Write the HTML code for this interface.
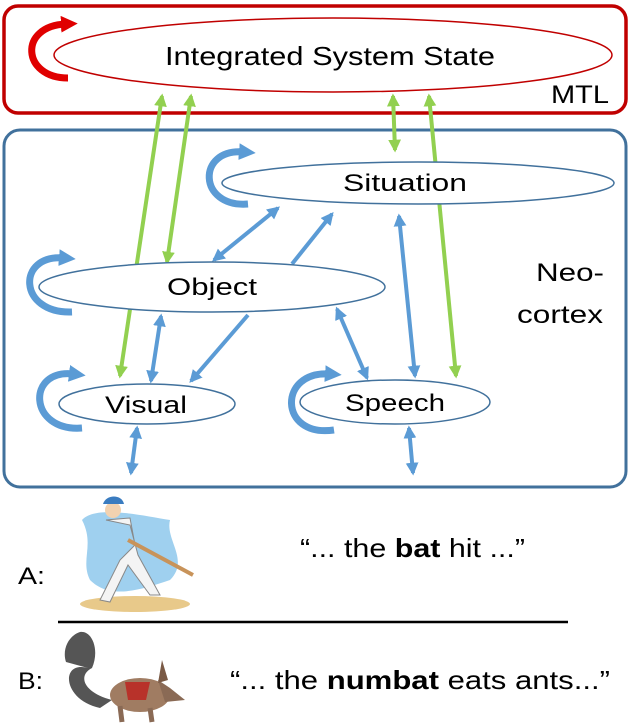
<!DOCTYPE html>
<html><head><meta charset="utf-8"><style>
html,body{margin:0;padding:0;background:#fff;}
svg{display:block;}
text{font-family:"Liberation Sans",sans-serif;fill:#000;}
</style></head><body>
<svg width="630" height="728" viewBox="0 0 630 728" xmlns="http://www.w3.org/2000/svg">
<defs>
<marker id="bh" viewBox="0 0 10 10" refX="8" refY="5" markerWidth="3.2" markerHeight="3.2" orient="auto-start-reverse"><path d="M0,0 L10,5 L0,10 z" fill="#5b9bd5"/></marker>
<marker id="gh" viewBox="0 0 10 10" refX="8" refY="5" markerWidth="3.2" markerHeight="3.2" orient="auto-start-reverse"><path d="M0,0 L10,5 L0,10 z" fill="#92d050"/></marker>
<marker id="rh" viewBox="0 0 10 10" refX="3" refY="5" markerWidth="2.4" markerHeight="2.4" orient="auto"><path d="M0,0 L10,5 L0,10 z" fill="#e00000"/></marker>
<marker id="lb" viewBox="0 0 10 10" refX="3" refY="5" markerWidth="2.4" markerHeight="2.4" orient="auto"><path d="M0,0 L10,5 L0,10 z" fill="#5b9bd5"/></marker>
</defs>

<!-- MTL box -->
<rect x="4" y="6" width="622" height="107" rx="14" fill="none" stroke="#c00000" stroke-width="3.5"/>
<path d="M68,78 C22,78 18,26 66,24" fill="none" stroke="#e00000" stroke-width="7" marker-end="url(#rh)"/>
<ellipse cx="333" cy="55" rx="279" ry="37" fill="#fff" stroke="#c00000" stroke-width="1.5"/>
<text x="330" y="65" font-size="26" text-anchor="middle" textLength="330" lengthAdjust="spacingAndGlyphs">Integrated System State</text>
<text x="551" y="103" font-size="25" textLength="58" lengthAdjust="spacingAndGlyphs">MTL</text>

<!-- Neocortex box -->
<rect x="4" y="130" width="622" height="357" rx="16" fill="none" stroke="#41719c" stroke-width="3"/>
<text x="536" y="281" font-size="25" textLength="68" lengthAdjust="spacingAndGlyphs">Neo-</text>
<text x="517" y="323" font-size="25" textLength="86" lengthAdjust="spacingAndGlyphs">cortex</text>

<!-- green arrows -->
<g stroke="#92d050" stroke-width="4" fill="none">
<line x1="120" y1="376" x2="162" y2="96" marker-start="url(#gh)" marker-end="url(#gh)"/>
<line x1="191" y1="96" x2="167" y2="262" marker-start="url(#gh)" marker-end="url(#gh)"/>
<line x1="393" y1="96" x2="395" y2="150" marker-start="url(#gh)" marker-end="url(#gh)"/>
<line x1="429" y1="96" x2="456" y2="376" marker-start="url(#gh)" marker-end="url(#gh)"/>
</g>

<!-- blue arrows -->
<g stroke="#5b9bd5" stroke-width="4" fill="none">
<line x1="214" y1="260" x2="278" y2="208" marker-start="url(#bh)" marker-end="url(#bh)"/>
<line x1="292" y1="264" x2="332" y2="214" marker-end="url(#bh)"/>
<line x1="248" y1="315" x2="191" y2="381" marker-end="url(#bh)"/>
<line x1="161" y1="316" x2="151" y2="381" marker-start="url(#bh)" marker-end="url(#bh)"/>
<line x1="337" y1="309" x2="367" y2="378" marker-start="url(#bh)" marker-end="url(#bh)"/>
<line x1="399" y1="216" x2="415" y2="376" marker-start="url(#bh)" marker-end="url(#bh)"/>
<line x1="137" y1="428" x2="131" y2="473" marker-start="url(#bh)" marker-end="url(#bh)"/>
<line x1="409" y1="428" x2="413" y2="473" marker-start="url(#bh)" marker-end="url(#bh)"/>
</g>

<!-- blue self loops -->
<g stroke="#5b9bd5" stroke-width="7" fill="none">
<path d="M248,204 C198,208 196,148 244,152" marker-end="url(#lb)"/>
<path d="M72,312 C18,314 16,254 64,258" marker-end="url(#lb)"/>
<path d="M82,428 C28,432 26,368 74,374" marker-end="url(#lb)"/>
<path d="M334,430 C278,438 278,370 330,374" marker-end="url(#lb)"/>
</g>

<!-- ellipses -->
<g fill="#fff" stroke="#41719c" stroke-width="1.5">
<ellipse cx="418" cy="183" rx="196" ry="21"/>
<ellipse cx="212" cy="287" rx="173" ry="25"/>
<ellipse cx="147" cy="404" rx="88" ry="20"/>
<ellipse cx="395" cy="402" rx="95" ry="22"/>
</g>

<g font-size="24">
<text x="405" y="191" text-anchor="middle" textLength="124" lengthAdjust="spacingAndGlyphs">Situation</text>
<text x="212" y="295" text-anchor="middle" textLength="90" lengthAdjust="spacingAndGlyphs">Object</text>
<text x="146" y="413" text-anchor="middle" textLength="82" lengthAdjust="spacingAndGlyphs">Visual</text>
<text x="395" y="411" text-anchor="middle" textLength="100" lengthAdjust="spacingAndGlyphs">Speech</text>
</g>

<!-- baseball player approx -->
<path d="M82,520 C95,505 140,515 170,520 C165,540 190,560 170,580 C140,590 110,600 90,580 C80,560 95,545 82,520 z" fill="#9fd0ef"/>
<ellipse cx="135" cy="604" rx="55" ry="8" fill="#e8c98a"/>
<circle cx="113" cy="510" r="8" fill="#f2d2b0"/>
<path d="M103,504 C106,494 122,494 124,504 z" fill="#3a7cc0"/>
<path d="M106,520 L130,518 L135,545 L120,560 L100,600 L110,602 L128,565 L150,595 L160,595 L138,555 L130,525 z" fill="#f4f4f4" stroke="#888" stroke-width="1"/>
<line x1="128" y1="540" x2="193" y2="575" stroke="#c8935a" stroke-width="4"/>

<!-- numbat approx -->
<path d="M88,668 C60,660 62,700 100,708 L112,700 C82,692 78,675 92,668 C100,650 92,630 80,632 C68,636 62,650 66,662 z" fill="#555"/>
<ellipse cx="140" cy="695" rx="30" ry="17" fill="#a07c62"/>
<path d="M125,682 L150,682 L146,700 L128,700 z" fill="#b8322a"/>
<path d="M158,680 L170,688 L185,700 L165,702 z" fill="#8a6a55"/>
<path d="M158,683 L162,660 L168,680 z" fill="#7a5a45"/>
<path d="M120,706 L122,722 M150,708 L152,722" stroke="#8a6a55" stroke-width="5"/>

<text x="18" y="584" font-size="24" textLength="27" lengthAdjust="spacingAndGlyphs">A:</text>
<text x="18" y="689" font-size="24" textLength="25" lengthAdjust="spacingAndGlyphs">B:</text>
<text x="300" y="557" font-size="26" textLength="225" lengthAdjust="spacingAndGlyphs">“... the <tspan font-weight="bold">bat</tspan> hit ...”</text>
<text x="230" y="689" font-size="26" textLength="380" lengthAdjust="spacingAndGlyphs">“... the <tspan font-weight="bold">numbat</tspan> eats ants...”</text>
<line x1="58" y1="622" x2="568" y2="622" stroke="#000" stroke-width="2.5"/>
</svg>
</body></html>
